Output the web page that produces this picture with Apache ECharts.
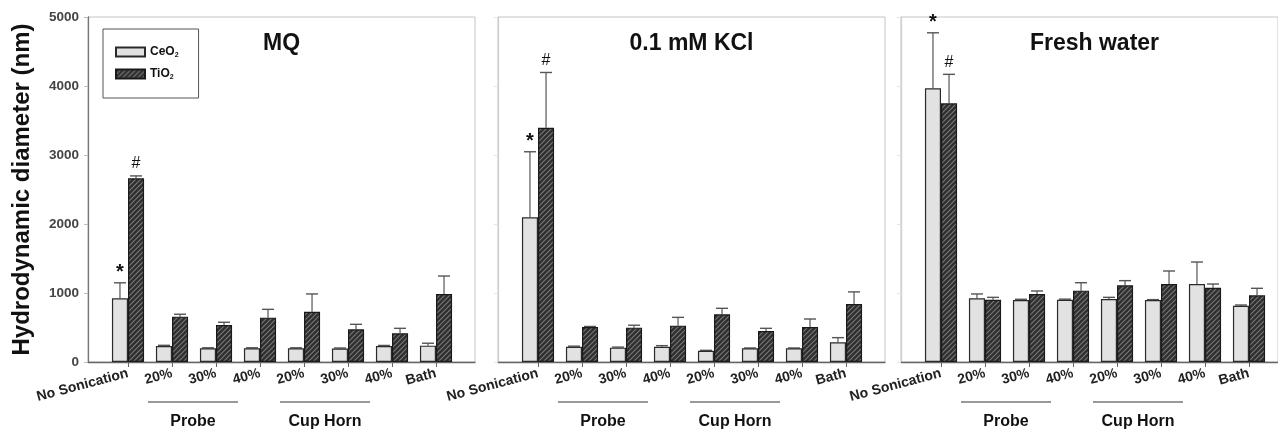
<!DOCTYPE html>
<html>
<head>
<meta charset="utf-8">
<script src="https://cdn.jsdelivr.net/npm/echarts@6/dist/echarts.min.js"></script>
<style>
  html, body { margin: 0; padding: 0; background: #fff; }
  #chart { width: 1278px; height: 430px; }
</style>
</head>
<body>
<div id="chart"></div>
<script>
// Sonication treatments along the x axis
const categories = ['No Sonication', '20%', '30%', '40%', '20%', '30%', '40%', 'Bath'];
const panelTitles = ['MQ', '0.1 mM KCl', 'Fresh water'];
const groupLabels = ['Probe', 'Cup Horn'];
const yTicks = [0, 1000, 2000, 3000, 4000, 5000];

// Hydrodynamic diameter (nm), mean and +SD, per medium
const mqCeO2 = [923, 232, 198, 198, 198, 195, 232, 237];
const mqCeO2Err = [225, 10, 8, 8, 8, 8, 8, 35];
const mqTiO2 = [2662, 657, 536, 643, 729, 473, 415, 986];
const mqTiO2Err = [35, 35, 40, 120, 257, 73, 73, 260];

const kclCeO2 = [2097, 222, 208, 222, 164, 198, 198, 285];
const kclCeO2Err = [950, 8, 8, 15, 5, 5, 5, 68];
const kclTiO2 = [3396, 507, 498, 527, 691, 449, 507, 841];
const kclTiO2Err = [800, 8, 35, 120, 87, 39, 116, 175];

const fwCeO2 = [3966, 923, 899, 903, 913, 899, 1130, 816];
const fwCeO2Err = [805, 63, 10, 8, 24, 5, 319, 10];
const fwTiO2 = [3749, 903, 986, 1034, 1111, 1130, 1077, 966];
const fwTiO2Err = [420, 34, 43, 115, 68, 189, 53, 102];

// Significance marks drawn above the error bars
const ceo2Marks = ['*', '', '', '', '', '', '', ''];
const tio2Marks = ['#', '', '', '', '', '', '', ''];

const panels = [
  { ce: mqCeO2, ceErr: mqCeO2Err, ti: mqTiO2, tiErr: mqTiO2Err },
  { ce: kclCeO2, ceErr: kclCeO2Err, ti: kclTiO2, tiErr: kclTiO2Err },
  { ce: fwCeO2, ceErr: fwCeO2Err, ti: fwTiO2, tiErr: fwTiO2Err }
];

const FONT = '"Liberation Sans", Arial, sans-serif';
const frameLeft = [88, 498, 901];
const frameWidth = 387;
const plotTop = 17;
const plotHeight = 345;
const bandWidth = 44;
const firstCenterOffset = 40;
const barCategoryGap = 0.27;

// Diagonal hatch fill for the TiO2 bars
function hatchPattern() {
  const c = document.createElement('canvas');
  c.width = 5; c.height = 5;
  const g = c.getContext('2d');
  g.fillStyle = '#2f2f2f';
  g.fillRect(0, 0, 5, 5);
  g.strokeStyle = '#7a7a7a';
  g.lineWidth = 1.1;
  g.beginPath();
  g.moveTo(0, 5); g.lineTo(5, 0);
  g.moveTo(-1, 1); g.lineTo(1, -1);
  g.moveTo(4, 6); g.lineTo(6, 4);
  g.stroke();
  return c;
}
const tio2Fill = { image: hatchPattern(), repeat: 'repeat' };
const ceo2Fill = '#e2e2e2';

function errorRenderer(side, marks) {
  return function (params, api) {
    const idx = api.value(0);
    const mean = api.value(1);
    const err = api.value(2);
    const band = api.size([1, 0])[0];
    const barW = band * (1 - barCategoryGap) / 2;
    const base = api.coord([idx, mean]);
    const top = api.coord([idx, mean + err]);
    const x = base[0] + side * barW / 2;
    const children = [
      { type: 'line', shape: { x1: x, y1: base[1], x2: x, y2: top[1] },
        style: { stroke: '#555', lineWidth: 1.2 } },
      { type: 'line', shape: { x1: x - 6, y1: top[1], x2: x + 6, y2: top[1] },
        style: { stroke: '#555', lineWidth: 1.4 } }
    ];
    const m = marks[params.dataIndex];
    if (m) {
      const isStar = m === '*';
      children.push({
        type: 'text',
        style: { text: m, x: x, y: top[1] - (isStar ? 0 : 4), align: 'center', verticalAlign: 'bottom',
                 font: (isStar ? 'bold 20px ' : '16px ') + FONT, fill: '#111' }
      });
    }
    return { type: 'group', children: children };
  };
}

const grids = [], xAxes = [], yAxes = [], series = [];

// Frame grids: panel borders, y axis and baseline
frameLeft.forEach((left, i) => {
  grids.push({ left: left, top: plotTop, width: frameWidth, height: plotHeight,
               show: true, borderColor: '#c4c4c4', borderWidth: 1, backgroundColor: 'transparent' });
  xAxes.push({ gridIndex: i, type: 'value', min: 0, max: 1,
               axisLine: { show: true, onZero: false, lineStyle: { color: '#666', width: 1.3 } },
               axisTick: { show: false }, axisLabel: { show: false }, splitLine: { show: false } });
  yAxes.push({ gridIndex: i, type: 'value', min: yTicks[0], max: yTicks[yTicks.length - 1], interval: 1000,
               axisLine: { show: true, lineStyle: { color: i === 0 ? '#777' : '#d0d0d0', width: 1.3 } },
               axisTick: { show: true, length: 4, lineStyle: { color: i === 0 ? '#bbb' : '#e4e4e4' } },
               axisLabel: { show: i === 0, formatter: v => String(v), fontFamily: FONT, fontWeight: 'bold',
                            fontSize: 13.5, color: '#444', margin: 9 },
               splitLine: { show: false },
               name: i === 0 ? 'Hydrodynamic diameter (nm)' : '',
               nameLocation: 'middle', nameRotate: 90, nameGap: 54,
               nameTextStyle: { fontFamily: FONT, fontWeight: 'bold', fontSize: 24, color: '#111' } });
});

// Bar grids: category axes aligned inside each frame
frameLeft.forEach((left, i) => {
  const gi = 3 + i;
  grids.push({ left: left + firstCenterOffset - bandWidth / 2, top: plotTop,
               width: bandWidth * categories.length, height: plotHeight });
  xAxes.push({ gridIndex: gi, type: 'category', data: categories,
               axisLine: { show: false },
               axisTick: { show: true, alignWithLabel: true, length: 5, lineStyle: { color: '#666' } },
               axisLabel: { interval: 0, rotate: 15, margin: 11, fontFamily: FONT, fontWeight: 'bold',
                            fontSize: 14, color: '#222' } });
  yAxes.push({ gridIndex: gi, type: 'value', min: 0, max: 5000, show: false });

  const p = panels[i];
  series.push({
    name: 'CeO2', type: 'bar', xAxisIndex: gi, yAxisIndex: gi, data: p.ce,
    barGap: '0%', barCategoryGap: (barCategoryGap * 100) + '%',
    itemStyle: { color: ceo2Fill, borderColor: '#2a2a2a', borderWidth: 1.2 }, z: 2
  });
  series.push({
    name: 'TiO2', type: 'bar', xAxisIndex: gi, yAxisIndex: gi, data: p.ti,
    barGap: '0%', barCategoryGap: (barCategoryGap * 100) + '%',
    itemStyle: { color: tio2Fill, borderColor: '#1a1a1a', borderWidth: 1.2 }, z: 2
  });
  series.push({
    type: 'custom', xAxisIndex: gi, yAxisIndex: gi, z: 1,
    renderItem: errorRenderer(-1, ceo2Marks),
    data: p.ce.map((v, k) => [k, v, p.ceErr[k]])
  });
  series.push({
    type: 'custom', xAxisIndex: gi, yAxisIndex: gi, z: 1,
    renderItem: errorRenderer(1, tio2Marks),
    data: p.ti.map((v, k) => [k, v, p.tiErr[k]])
  });
});

// Panel titles and the Probe / Cup Horn group brackets
const graphics = [];
frameLeft.forEach((left, i) => {
  graphics.push({ type: 'text', x: left + frameWidth / 2, y: 44,
                  style: { text: panelTitles[i], align: 'center', verticalAlign: 'middle',
                           font: 'bold 23px ' + FONT, fill: '#111' } });
  const center = k => left + firstCenterOffset + k * bandWidth;
  [[1, 3], [4, 6]].forEach((rng, g) => {
    const x1 = center(rng[0]) - 24, x2 = center(rng[1]) - 22;
    graphics.push({ type: 'line', shape: { x1: x1, y1: 402, x2: x2, y2: 402 },
                    style: { stroke: '#777', lineWidth: 1.5 } });
    graphics.push({ type: 'text', x: (x1 + x2) / 2, y: 422,
                    style: { text: groupLabels[g], align: 'center', verticalAlign: 'middle',
                             font: 'bold 16px ' + FONT, fill: '#111' } });
  });
});

const chart = echarts.init(document.getElementById('chart'), null, { renderer: 'canvas' });
chart.setOption({
  backgroundColor: '#fff',
  animation: false,
  grid: grids,
  xAxis: xAxes,
  yAxis: yAxes,
  legend: {
    data: ['CeO2', 'TiO2'], orient: 'vertical', left: 103, top: 29,
    icon: 'rect', itemWidth: 29, itemHeight: 9, itemGap: 8,
    borderColor: '#555', borderWidth: 1, padding: [16, 20, 17, 12],
    formatter: name => name.replace(/(\d)$/, '{sub|$1}'),
    textStyle: { fontFamily: FONT, fontWeight: 'bold', fontSize: 12, color: '#111', lineHeight: 14,
                 rich: { sub: { fontFamily: FONT, fontWeight: 'bold', fontSize: 7, padding: [6, 0, 0, 0] } } }
  },
  series: series,
  graphic: graphics
});
</script>
</body>
</html>
